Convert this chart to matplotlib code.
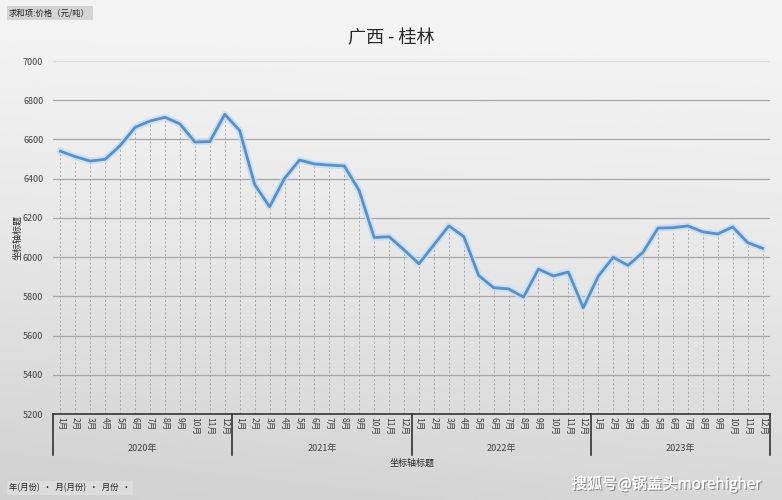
import numpy as np
import matplotlib
matplotlib.use("Agg")
import matplotlib.pyplot as plt
import matplotlib.transforms as mtransforms
import matplotlib.patheffects as pe

plt.rcParams['font.family'] = ['Noto Sans CJK SC', 'DejaVu Sans']

# -------- DATA --------
years = ["2020年", "2021年", "2022年", "2023年"]
months = [f"{m}月" for m in range(1, 13)]

price_2020 = [6540, 6512, 6490, 6499, 6569, 6662, 6694, 6713, 6679, 6587, 6589, 6728]
price_2021 = [6645, 6370, 6257, 6401, 6495, 6475, 6469, 6465, 6339, 6100, 6104, 6037]
price_2022 = [5966, 6063, 6159, 6105, 5906, 5844, 5838, 5796, 5939, 5904, 5924, 5742]
price_2023 = [5902, 5999, 5958, 6025, 6148, 6150, 6159, 6129, 6118, 6154, 6074, 6045]

y_ticks = [5200, 5400, 5600, 5800, 6000, 6200, 6400, 6600, 6800, 7000]

title = "广西 - 桂林"
value_field = "求和项:价格（元/吨）"
axis_title = "坐标轴标题"
filter_buttons = "年(月份)  ·  月(月份)  ·  月份  ·"
watermark = "搜狐号@锅盖头morehigher"

prices = price_2020 + price_2021 + price_2022 + price_2023
x = np.arange(len(prices))

# -------- FIGURE --------
W, H = 782, 500
fig = plt.figure(figsize=(W / 100, H / 100), dpi=100)

# gray gradient background
bg = fig.add_axes([0, 0, 1, 1], zorder=0)
gy = np.linspace(0, 1, 200)[:, None]
gx = np.linspace(0, 1, 300)[None, :]
shade = 0.955 - 0.11 * gy ** 1.4 - 0.03 * (1 - gx) * gy
bg.imshow(shade, cmap="gray", vmin=0, vmax=1, aspect="auto",
          extent=[0, 1, 0, 1], origin="upper")
bg.axis("off")

left, right, top, bottom = 53, 770, 61, 414
ax = fig.add_axes([left / W, 1 - bottom / H, (right - left) / W, (bottom - top) / H],
                  zorder=1)
ax.set_facecolor("none")

# gridlines
for v in y_ticks[1:]:
    ax.axhline(v, color="#a8a8a8" if v < 7000 else "#dcdcdc", lw=0.9, zorder=1)

# drop lines
ax.vlines(x, y_ticks[0], prices, colors="#a0a0a0", linestyles=(0, (2.5, 2.5)),
          lw=0.6, zorder=2)

# line with soft glow
ax.plot(x, prices, color="#c6def3", lw=4.8, alpha=0.85, zorder=3,
        solid_joinstyle="round")
ax.plot(x, prices, color="#5890c8", lw=2.0, zorder=4, solid_joinstyle="round")

ax.set_xlim(-0.5, len(prices) - 0.5)
ax.set_ylim(y_ticks[0], y_ticks[-1])
ax.set_yticks(y_ticks)
ax.set_yticklabels([str(v) for v in y_ticks], fontsize=6.5, color="#404040")
ax.tick_params(axis="y", length=0, pad=7)

ax.set_xticks(x)
ax.set_xticklabels(months * len(years), rotation=-90, fontsize=6.2, color="#404040")
ax.tick_params(axis="x", length=0, pad=2)

for s in ["top", "right", "left"]:
    ax.spines[s].set_visible(False)
ax.spines["bottom"].set_color("#333333")
ax.spines["bottom"].set_linewidth(1.2)

# year level of the category axis
trans = mtransforms.blended_transform_factory(ax.transData, ax.transAxes)
depth = -41 / (bottom - top)
for k in range(len(years) + 1):
    xb = k * 12 - 0.5
    ax.plot([xb, xb], [0, depth], color="#333333", lw=1.2, transform=trans,
            clip_on=False)
for k, yr in enumerate(years):
    ax.text(k * 12 + 5.5, -35 / (bottom - top), yr, transform=trans, ha="center",
            va="center", fontsize=6.5, color="#404040")

fig.text(412 / W, 1 - 463 / H, axis_title, ha="center", va="center",
         fontsize=6.5, color="#262626")
fig.text(18 / W, 1 - 237 / H, axis_title, ha="center", va="center",
         rotation=90, fontsize=6.5, color="#262626")

fig.text(391 / W, 1 - 38 / H, title, ha="center", va="center",
         fontsize=13, color="#262626")

# pivot field buttons
fig.text(9 / W, 1 - 13 / H, value_field, ha="left", va="center", fontsize=6,
         color="#222222",
         bbox=dict(boxstyle="square,pad=0.3", fc="#d4d4d4", ec="none"))
fig.text(9 / W, 1 - 488 / H, filter_buttons, ha="left", va="center",
         fontsize=6, color="#222222",
         bbox=dict(boxstyle="square,pad=0.3", fc="#dcdcdc", ec="none"))

fig.text(666 / W, 1 - 484 / H, watermark, ha="center", va="center",
         fontsize=11, color="white",
         path_effects=[pe.withSimplePatchShadow(offset=(1, -1), shadow_rgbFace="#555555",
                                                alpha=0.6), pe.Normal()])

fig.savefig("out.png", dpi=100)
